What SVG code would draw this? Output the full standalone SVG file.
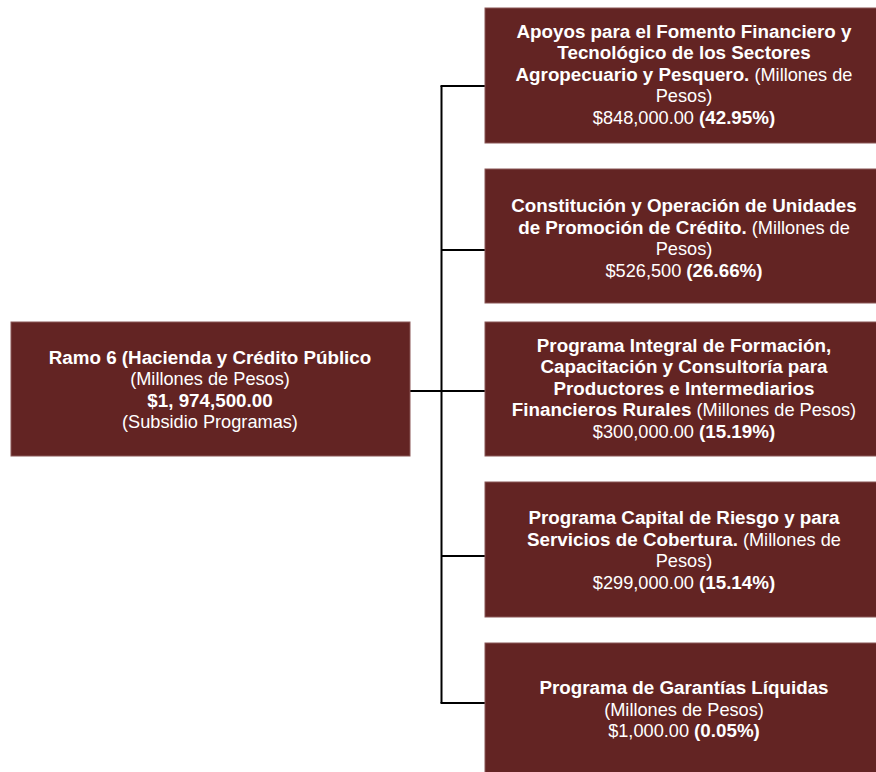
<svg xmlns="http://www.w3.org/2000/svg" width="876" height="772" viewBox="0 0 876 772">
<style>
.box{fill:#632423;stroke:#8a5757;stroke-width:1}
text{font-family:"Liberation Sans",Arial,sans-serif;font-size:18.2px;fill:#ffffff;text-anchor:middle}
.b{font-weight:bold;font-size:18.8px}
.conn{stroke:#000000;stroke-width:2;fill:none}
</style>
<rect width="876" height="772" fill="#ffffff"/>
<g id="connectors">
<path class="conn" d="M410 391 H485"/>
<path class="conn" d="M441.5 86 V703"/>
<path class="conn" d="M440.5 86 H485"/>
<path class="conn" d="M441.5 250 H485"/>
<path class="conn" d="M441.5 556 H485"/>
<path class="conn" d="M440.5 703 H485"/>
</g>
<g id="root">
<rect class="box" x="11" y="322" width="399" height="134"/>
<text x="210" y="364" class="b">Ramo 6 (Hacienda y Crédito Público</text>
<text x="210" y="385.3">(Millones de Pesos)</text>
<text x="210" y="406.6" class="b">$1, 974,500.00</text>
<text x="210" y="428">(Subsidio Programas)</text>
</g>
<g id="n1">
<rect class="box" x="485" y="8" width="400" height="135"/>
<text x="684" y="37.5" class="b">Apoyos para el Fomento Financiero y</text>
<text x="684" y="59" class="b">Tecnológico de los Sectores</text>
<text x="684" y="80.5"><tspan class="b">Agropecuario y Pesquero.</tspan> (Millones de</text>
<text x="684" y="102">Pesos)</text>
<text x="684" y="123.5">$848,000.00 <tspan class="b">(42.95%)</tspan></text>
</g>
<g id="n2">
<rect class="box" x="485" y="169" width="400" height="134"/>
<text x="684" y="212" class="b">Constitución y Operación de Unidades</text>
<text x="684" y="233.5"><tspan class="b">de Promoción de Crédito.</tspan> (Millones de</text>
<text x="684" y="255">Pesos)</text>
<text x="684" y="276.5">$526,500 <tspan class="b">(26.66%)</tspan></text>
</g>
<g id="n3">
<rect class="box" x="485" y="322" width="400" height="134"/>
<text x="684" y="351.5" class="b">Programa Integral de Formación,</text>
<text x="684" y="373" class="b">Capacitación y Consultoría para</text>
<text x="684" y="394.5" class="b">Productores e Intermediarios</text>
<text x="684" y="416"><tspan class="b">Financieros Rurales</tspan> (Millones de Pesos)</text>
<text x="684" y="437.5">$300,000.00 <tspan class="b">(15.19%)</tspan></text>
</g>
<g id="n4">
<rect class="box" x="485" y="482" width="400" height="135"/>
<text x="684" y="524" class="b">Programa Capital de Riesgo y para</text>
<text x="684" y="545.5"><tspan class="b">Servicios de Cobertura.</tspan> (Millones de</text>
<text x="684" y="567">Pesos)</text>
<text x="684" y="588.5">$299,000.00 <tspan class="b">(15.14%)</tspan></text>
</g>
<g id="n5">
<rect class="box" x="485" y="643" width="400" height="135"/>
<text x="684" y="694" class="b">Programa de Garantías Líquidas</text>
<text x="684" y="715.5">(Millones de Pesos)</text>
<text x="684" y="737">$1,000.00 <tspan class="b">(0.05%)</tspan></text>
</g>
</svg>
